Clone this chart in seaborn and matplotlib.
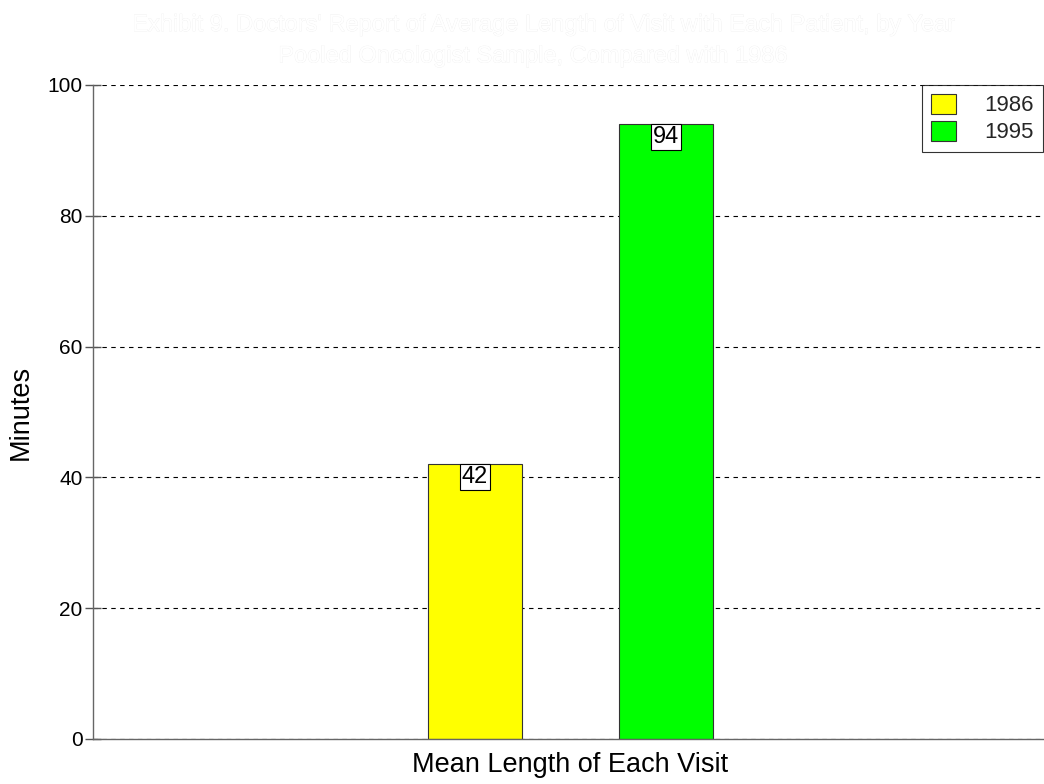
import matplotlib
matplotlib.use("Agg")
import matplotlib.pyplot as plt
import matplotlib.patheffects as pe
import seaborn as sns
import pandas as pd

# Data
category = "Mean Length of Each Visit"
years = ["1986", "1995"]
minutes = [42, 94]
bar_colors = ["#ffff00", "#00ff00"]
y_ticks = [0, 20, 40, 60, 80, 100]
title_lines = [
    "Exhibit 9. Doctors' Report of Average Length of Visit with Each Patient, by Year",
    "Pooled Oncologist Sample, Compared with 1986",
]

sns.set_theme(style="white")
plt.rcParams["font.family"] = ["Liberation Sans", "DejaVu Sans"]

df = pd.DataFrame({"measure": [category] * len(years), "year": years, "minutes": minutes})

fig = plt.figure(figsize=(10.44, 7.84), dpi=100)
ax = fig.add_axes([93 / 1044, 1 - 739 / 784, 950 / 1044, (739 - 85) / 784])

sns.barplot(
    data=df, x="measure", y="minutes", hue="year",
    palette=dict(zip(years, bar_colors)), width=0.8, gap=0.51,
    edgecolor="#333333", linewidth=0.8, saturation=1, legend=False, ax=ax,
)

ax.set_ylim(0, 100)
ax.set_xlim(-1.0, 0.99)
ax.set_yticks(y_ticks)
ax.yaxis.grid(True, linestyle=(0, (4, 4)), color="black", linewidth=0.8)
ax.set_axisbelow(True)

for side in ["top", "right"]:
    ax.spines[side].set_visible(False)
for side in ["left", "bottom"]:
    ax.spines[side].set_color("#666666")
    ax.spines[side].set_linewidth(1.0)

ax.tick_params(axis="y", direction="inout", length=11, width=1, color="#555555",
               labelsize=15, labelcolor="black", pad=2, left=True)
ax.tick_params(axis="x", length=0, labelsize=19.5, labelcolor="black", pad=9)
ax.set_xlabel("")
ax.set_ylabel("Minutes", fontsize=19.5, color="black", labelpad=10)

# Value boxes at the top of each bar
for cont in ax.containers:
    for rect in cont:
        h = rect.get_height()
        ax.annotate(
            f"{h:g}", xy=(rect.get_x() + rect.get_width() / 2, h),
            xytext=(0, -1), textcoords="offset points",
            ha="center", va="top", fontsize=17, color="black",
            bbox=dict(boxstyle="square,pad=0.08", facecolor="white",
                      edgecolor="black", linewidth=0.8),
        )

# Legend
handles = [plt.Rectangle((0, 0), 1, 1, facecolor=c, edgecolor="#333333", linewidth=0.8)
           for c in bar_colors]
leg = ax.legend(handles, years, loc="upper right", bbox_to_anchor=(1.0, 1.0),
                frameon=True, fancybox=False, fontsize=16, handlelength=1.1,
                handleheight=1.0, handletextpad=1.3, borderpad=0.4,
                labelspacing=0.2, borderaxespad=0)
leg.get_frame().set_edgecolor("black")
leg.get_frame().set_linewidth(0.8)

# Title in white with a faint outline
fig.text(0.522, 0.968, title_lines[0], ha="center", va="center", fontsize=17,
         color="white",
         path_effects=[pe.withStroke(linewidth=0.4, foreground="#ececec")])
fig.text(0.511, 0.928, title_lines[1], ha="center", va="center", fontsize=17,
         color="white",
         path_effects=[pe.withStroke(linewidth=0.4, foreground="#ececec")])

fig.savefig("out.png", dpi=100, facecolor="white")
